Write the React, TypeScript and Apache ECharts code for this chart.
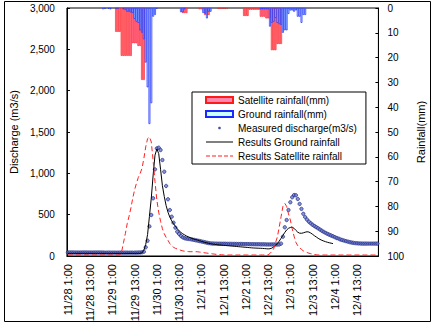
import React, { useEffect, useRef } from "react";
import * as echarts from "echarts";

// Hourly time categories: 11/28 1:00 ... 12/5 0:00 (168 hours)
const dayNames = ["11/28", "11/29", "11/30", "12/1", "12/2", "12/3", "12/4", "12/5"];
const timeLabels: string[] = [];
for (let h = 0; h < 168; h++) {
  const t = h + 1;
  timeLabels.push(`${dayNames[Math.floor(t / 24)]} ${t % 24}:00`);
}

const leftTicks = [0, 500, 1000, 1500, 2000, 2500, 3000];
const rightTicks = [0, 10, 20, 30, 40, 50, 60, 70, 80, 90, 100];

// Measured discharge (m3/s), hourly
const measured = [
  43, 43, 43, 42, 42, 42, 42, 42, 42, 42,
  42, 42, 42, 42, 42, 42, 42, 42, 42, 42,
  41, 41, 41, 41, 41, 41, 41, 41, 41, 41,
  41, 41, 41, 41, 41, 41, 41, 41, 42, 43,
  45, 52, 105, 185, 358, 496, 698, 1048, 1302, 1310,
  1282, 1161, 1020, 847, 686, 556, 475, 403, 343, 294,
  266, 242, 225, 215, 210, 207, 204, 200, 195, 190,
  186, 181, 176, 171, 166, 161, 156, 153, 151, 150,
  150, 149, 149, 148, 148, 148, 147, 147, 147, 146,
  146, 146, 145, 145, 145, 144, 144, 144, 143, 143,
  143, 142, 142, 142, 141, 141, 141, 140, 140, 140,
  140, 140, 139, 139, 140, 150, 234, 347, 435, 556,
  650, 710, 737, 735, 690, 630, 570, 510, 470, 440,
  415, 395, 378, 362, 348, 335, 320, 305, 292, 280,
  268, 258, 248, 238, 228, 218, 210, 200, 193, 186,
  180, 174, 168, 163, 159, 156, 154, 152, 151, 150,
  150, 150, 150, 150, 150, 150, 150, 150,
];

// Results with ground rainfall (m3/s), hourly, ends at 12/4 0:00
const resultsGround = [
  32, 32, 32, 32, 32, 32, 32, 32, 32, 32,
  32, 32, 32, 32, 32, 32, 32, 32, 32, 32,
  32, 32, 32, 32, 32, 32, 32, 32, 32, 32,
  32, 32, 32, 32, 32, 32, 32, 32, 32, 32,
  38, 70, 140, 260, 480, 700, 980, 1220, 1295, 1240,
  1050, 850, 720, 610, 530, 470, 425, 390, 360, 330,
  305, 285, 268, 255, 242, 232, 222, 212, 204, 198,
  193, 185, 178, 171, 165, 159, 154, 149, 145, 141,
  138, 135, 133, 131, 129, 127, 125, 123, 121, 119,
  117, 115, 113, 111, 109, 107, 105, 103, 101, 99,
  97, 96, 95, 94, 93, 92, 90, 88, 86, 88,
  95, 110, 130, 150, 180, 214, 250, 285, 315, 335,
  345, 347, 335, 310, 288, 276, 275, 280, 288, 293,
  290, 278, 262, 245, 230, 214, 201, 190, 181, 173,
  166, 160, 155, 150, null, null, null, null, null, null,
  null, null, null, null, null, null, null, null, null, null,
  null, null, null, null, null, null, null, null,
];

// Results with satellite rainfall (m3/s), hourly
const resultsSatellite = [
  12, 12, 12, 12, 12, 12, 12, 12, 12, 12,
  12, 12, 12, 12, 12, 12, 12, 12, 12, 12,
  12, 12, 12, 12, 12, 12, 12, 12, 14, 50,
  160, 270, 390, 480, 580, 700, 800, 880, 950, 1000,
  1060, 1180, 1320, 1420, 1440, 1380, 1150, 900, 677, 530,
  420, 330, 270, 225, 190, 150, 125, 105, 93, 85,
  78, 68, 62, 58, 55, 53, 52, 52, 52, 52,
  51, 48, 45, 41, 38, 35, 32, 29, 26, 23,
  20, 18, 16, 14, 13, 12, 12, 12, 12, 12,
  12, 12, 12, 12, 12, 12, 12, 12, 12, 12,
  12, 12, 12, 12, 12, 12, 12, 12, 14, 30,
  55, 85, 160, 230, 350, 475, 600, 637, 600, 510,
  435, 330, 240, 165, 125, 100, 80, 62, 52, 42,
  34, 28, 22, 18, 15, 12, 12, 12, 12, 12,
  12, 12, 12, 12, 12, 12, 12, 12, 12, 12,
  12, 12, 12, 12, 12, 12, 12, 12, 12, 12,
  12, 12, 12, 12, 12, 12, 12, 12,
];

// Satellite rainfall (mm), hourly
const satelliteRain = [
  0, 0, 0, 0, 0, 0, 0, 0, 0, 0,
  0, 0, 0, 0, 0, 0, 0, 0, 0, 0,
  0, 0, 0, 0, 0, 0, 9.6, 9.6, 9.6, 19.3,
  19.3, 19.3, 19.3, 19.3, 19.3, 14.2, 14.2, 14.2, 15.3, 15.3,
  29, 29, 0, 0, 0, 0, 0, 0, 0, 0,
  0, 0, 0, 0, 0, 0, 0, 0, 0, 0,
  0, 0, 2, 2, 2, 0, 0, 0, 0, 0,
  0, 0.5, 0.5, 0.5, 2.8, 2.8, 2.8, 0, 0, 0,
  0, 0.3, 0.3, 0.3, 0.3, 0.3, 0.3, 0, 0, 0,
  0, 0, 0, 0, 0, 3.2, 3.2, 3.2, 0.7, 0.7,
  0.7, 0.7, 0.7, 0.7, 3.5, 3.5, 3.5, 4.2, 4.2, 4.2,
  17, 17, 17, 14.5, 14.5, 14.5, 0, 0, 0, 0,
  0, 0, 0, 0, 0, 0, 0, 0, 0, 0,
  0, 0, 0, 0, 0, 0, 0, 0, 0, 0,
  0, 0, 0, 0, 0, 0, 0, 0, 0, 0,
  0, 0, 0, 0, 0, 0, 0, 0, 0, 0,
  0, 0, 0, 0, 0, 0, 0, 0,
];

// Ground rainfall (mm), hourly
const groundRain = [
  0, 0, 0, 0, 0, 0, 0, 0, 0, 0,
  0, 0, 0, 0, 0, 0, 0, 0, 0, 0.5,
  0.3, 0, 0.3, 0.5, 0, 0, 0.3, 0.3, 0, 0,
  0.5, 0.8, 1.5, 1.5, 1.8, 2, 4.4, 5.5, 6, 9,
  10, 12.6, 22, 32, 46.8, 38.4, 3.5, 2.8, 0.3, 0,
  0, 0, 0, 0, 0, 0, 0, 0, 0, 0,
  0, 1.7, 1.7, 0.5, 0, 0, 0, 0, 0, 0,
  0, 0, 0, 2, 2.2, 4.2, 1.5, 1.5, 0, 0,
  0, 0, 0, 0, 0, 0, 0, 0, 0, 0,
  0, 0, 0, 0, 0, 0, 0, 0, 0, 0,
  0, 0, 0, 0, 0.5, 0.5, 0.5, 0.5, 0.5, 7.5,
  6, 5.5, 4, 6, 6.5, 6.8, 10, 9, 9, 2.4,
  1, 1, 1.5, 1, 3.5, 3.5, 6, 2.8, 2.8, 0,
  0, 0, 0, 0, 0, 0, 0, 0, 0, 0,
  0, 0, 0, 0, 0, 0, 0, 0, 0, 0,
  0, 0, 0, 0, 0, 0, 0, 0, 0, 0,
  0, 0, 0, 0, 0, 0, 0, 0,
];

const FONT = "Liberation Sans";

// Legend icon shapes (path icons, bounding box 27 x 6)
const ICON_SOLID = "path://M0,2.5L27,2.5L27,3.5L0,3.5Z M0,0L0,0Z M27,6L27,6Z";
const ICON_DASH =
  "path://M0,2.5L4,2.5L4,3.5L0,3.5Z M6,2.5L10,2.5L10,3.5L6,3.5Z M12,2.5L16,2.5L16,3.5L12,3.5Z M18,2.5L22,2.5L22,3.5L18,3.5Z M24,2.5L27,2.5L27,3.5L24,3.5Z M0,0L0,0Z M27,6L27,6Z";
const ICON_DOT =
  "path://M0,0L0,0Z M27,6L27,6Z M12.2,2.4L12.8,1.8L14.2,1.8L14.8,2.4L14.8,3.6L14.2,4.2L12.8,4.2L12.2,3.6Z";

export default function App() {
  const ref = useRef<HTMLDivElement>(null);
  useEffect(() => {
    if (!ref.current) return;
    const chart = echarts.init(ref.current, undefined, { renderer: "svg" });
    const noZero = (arr: number[]) => arr.map((v) => (v === 0 ? "-" : v));
    chart.setOption({
      animation: false,
      textStyle: { fontFamily: FONT, color: "#000" },
      grid: {
        left: 58,
        right: 39,
        top: 8,
        bottom: 69,
        show: true,
        borderColor: "#000",
        borderWidth: 1,
        backgroundColor: "transparent",
      },
      xAxis: {
        type: "category",
        data: timeLabels,
        boundaryGap: true,
        axisLine: { lineStyle: { color: "#000", width: 1 } },
        axisTick: { inside: true, length: 4, interval: 0, lineStyle: { color: "#333", width: 1 } },
        axisLabel: { interval: 11, rotate: 90, fontSize: 11, color: "#000", margin: 8, fontFamily: FONT },
        splitLine: { show: false },
      },
      yAxis: [
        {
          type: "value",
          min: leftTicks[0],
          max: leftTicks[leftTicks.length - 1],
          interval: leftTicks[1] - leftTicks[0],
          name: "Discharge (m3/s)",
          nameLocation: "middle",
          nameGap: 46,
          nameRotate: 90,
          nameTextStyle: { fontSize: 11, color: "#000", fontFamily: FONT },
          axisLine: { show: true, lineStyle: { color: "#000" } },
          axisTick: { show: true, inside: true, length: 3, lineStyle: { color: "#000" } },
          axisLabel: {
            fontSize: 10,
            color: "#000",
            margin: 12,
            fontFamily: FONT,
            formatter: (v: number) => v.toLocaleString("en-US"),
          },
          splitLine: { show: false },
        },
        {
          type: "value",
          min: rightTicks[0],
          max: rightTicks[rightTicks.length - 1],
          interval: rightTicks[1] - rightTicks[0],
          inverse: true,
          position: "right",
          name: "Rainfall(mm)",
          nameLocation: "middle",
          nameGap: 31,
          nameRotate: 90,
          nameTextStyle: { fontSize: 11, color: "#000", fontFamily: FONT },
          axisLine: { show: true, lineStyle: { color: "#000" } },
          axisTick: { show: true, inside: true, length: 3, lineStyle: { color: "#000" } },
          axisLabel: { fontSize: 10, color: "#000", margin: 9, fontFamily: FONT },
          splitLine: { show: false },
        },
      ],
      legend: {
        orient: "vertical",
        left: 192,
        top: 92,
        backgroundColor: "#fff",
        borderColor: "#000",
        borderWidth: 1,
        borderRadius: 0,
        padding: [1, 9, 1, 13],
        itemWidth: 27,
        itemHeight: 6,
        itemGap: 0,
        textStyle: { fontSize: 10, color: "#000", lineHeight: 14, fontFamily: FONT },
        data: [
          { name: "Satellite rainfall(mm)", icon: "rect" },
          { name: "Ground rainfall(mm)", icon: "rect" },
          { name: "Measured discharge(m3/s)", icon: ICON_DOT, itemStyle: { color: "#1c248c", borderWidth: 0 } },
          { name: "Results Ground rainfall", icon: ICON_SOLID, itemStyle: { color: "#000", borderWidth: 0 } },
          { name: "Results Satellite rainfall", icon: ICON_DASH, itemStyle: { color: "#ff2020", borderWidth: 0 } },
        ],
      },
      graphic: [
        {
          type: "rect",
          shape: { x: 4.5, y: 1.5, width: 426, height: 320 },
          style: { fill: "none", stroke: "#000", lineWidth: 1 },
          silent: true,
        },
      ],
      series: [
        {
          name: "Satellite rainfall(mm)",
          type: "bar",
          yAxisIndex: 1,
          data: noZero(satelliteRain),
          barWidth: "100%",
          barGap: "-100%",
          itemStyle: { color: "#ff86ad", borderColor: "#ff1a1a", borderWidth: 0.6 },
        },
        {
          name: "Ground rainfall(mm)",
          type: "bar",
          yAxisIndex: 1,
          data: noZero(groundRain),
          barWidth: "100%",
          barGap: "-100%",
          itemStyle: { color: "#c9ffff", borderColor: "#1a2aff", borderWidth: 0.7 },
        },
        {
          name: "Measured discharge(m3/s)",
          type: "scatter",
          data: measured,
          symbol: "circle",
          symbolSize: 3.4,
          itemStyle: { color: "#6a78cc", borderColor: "#14207a", borderWidth: 0.8 },
        },
        {
          name: "Results Ground rainfall",
          type: "line",
          data: resultsGround,
          symbol: "none",
          lineStyle: { color: "#000", width: 1 },
          itemStyle: { color: "#000" },
        },
        {
          name: "Results Satellite rainfall",
          type: "line",
          data: resultsSatellite,
          symbol: "none",
          lineStyle: { color: "#ff2020", width: 1, type: [5, 3] },
          itemStyle: { color: "#ff2020" },
        },
      ],
    });
    return () => chart.dispose();
  }, []);
  return (
    <div
      ref={ref}
      style={{ position: "fixed", left: 0, top: 0, width: 434, height: 325, background: "#fff" }}
    />
  );
}
